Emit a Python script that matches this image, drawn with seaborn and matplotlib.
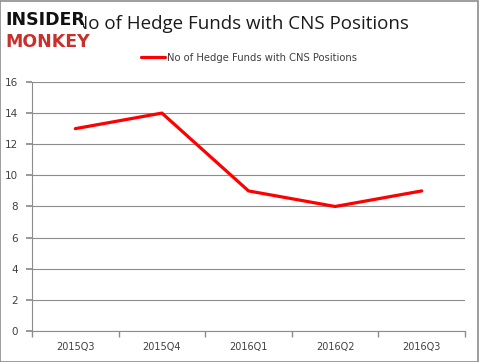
import numpy as np
import pandas as pd
import matplotlib
matplotlib.use("Agg")
import matplotlib.pyplot as plt
import matplotlib.ticker as mticker
from matplotlib.patches import Rectangle
import seaborn as sns

quarters = ["2015Q3", "2015Q4", "2016Q1", "2016Q2", "2016Q3"]
fund_counts = [13, 14, 9, 8, 9]
series_name = "No of Hedge Funds with CNS Positions"
title_text = "No of Hedge Funds with CNS Positions"

sns.set_theme(style="white")
plt.rcParams["font.family"] = ["DejaVu Sans"]

df = pd.DataFrame({"quarter": quarters, "funds": fund_counts})

fig = plt.figure(figsize=(4.79, 3.62), dpi=100)
ax = fig.add_axes([0.0668, 0.0856, 0.904, 0.688])

sns.lineplot(data=df, x="quarter", y="funds", ax=ax, color="#ff0000",
             linewidth=2.3, label=series_name, sort=False)

ax.set_xlim(-0.5, len(quarters) - 0.5)
ax.set_ylim(0, 16)
ax.yaxis.set_major_locator(mticker.MultipleLocator(2))
ax.grid(axis="y", color="#8c8c8c", linewidth=0.8)
ax.set_axisbelow(True)
ax.set_xlabel("")
ax.set_ylabel("")

# tick marks between categories, labels at centres
ax.set_xticks(np.arange(len(quarters)))
ax.set_xticklabels(quarters)
ax.xaxis.set_minor_locator(mticker.FixedLocator(np.arange(-0.5, len(quarters), 1.0)))
ax.tick_params(axis="x", which="major", length=0, labelsize=7, colors="#404040", pad=8)
ax.tick_params(axis="x", which="minor", length=4, color="#8c8c8c", bottom=True)
ax.tick_params(axis="y", length=4, color="#8c8c8c", left=True, labelsize=7.5,
               colors="#404040", pad=6)

for s in ["top", "right"]:
    ax.spines[s].set_visible(False)
for s in ["left", "bottom"]:
    ax.spines[s].set_color("#8c8c8c")
    ax.spines[s].set_linewidth(0.8)

leg = ax.legend(loc="lower center", bbox_to_anchor=(0.5, 1.04), frameon=False,
                fontsize=7.2, handlelength=2.4, handletextpad=0.2)
for t in leg.get_texts():
    t.set_color("#404040")

fig.text(0.505, 0.935, title_text, ha="center", va="center", fontsize=13.5,
         family=["Open Sans", "DejaVu Sans"], color="#1a1a1a")

# logo drawn over the start of the title
fig.patches.append(Rectangle((0.004, 0.87), 0.17, 0.125, transform=fig.transFigure,
                             facecolor="white", edgecolor="none", zorder=5))
fig.text(0.012, 0.945, "INSIDER", fontsize=12.5, fontweight="bold", color="#111111",
         ha="left", va="center", zorder=6)
fig.text(0.012, 0.885, "MONKEY", fontsize=12.5, fontweight="bold", color="#c9302c",
         ha="left", va="center", zorder=6)

fig.patches.append(Rectangle((0.001, 0.001), 0.997, 0.996, transform=fig.transFigure,
                             facecolor="none", edgecolor="#8c8c8c", linewidth=1.2,
                             zorder=10))

fig.savefig("out.png", dpi=100)
